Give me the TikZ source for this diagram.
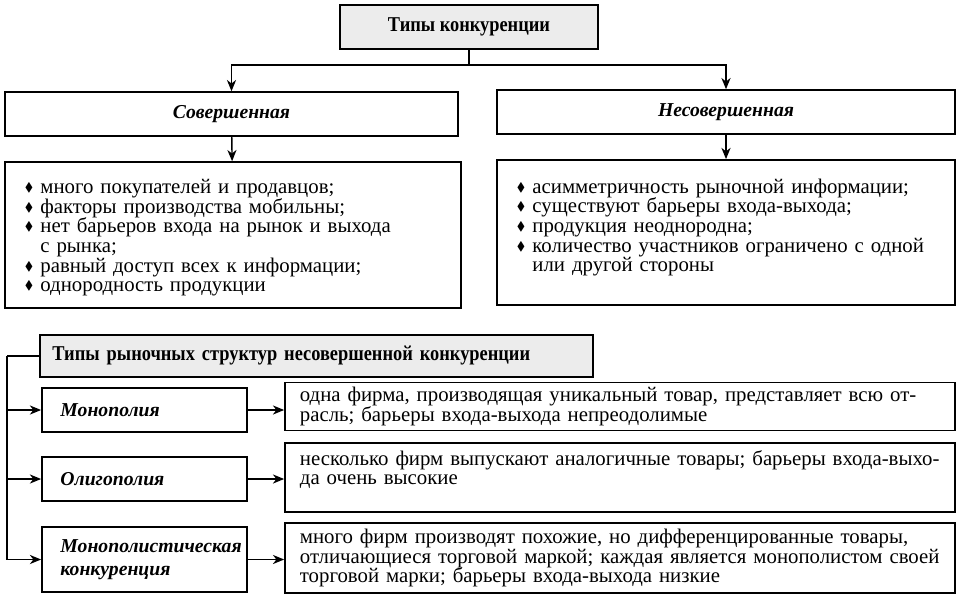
\documentclass[tikz,border=0pt]{standalone}
\usepackage{fontspec}
\setmainfont{Liberation Serif}
\newfontfamily\hdrfont[FakeStretch=0.87]{Liberation Serif}
\usepackage{amssymb}
\usepackage{graphicx}
\usetikzlibrary{arrows.meta,positioning}
\tikzstyle{hdr}=[draw, fill=gray!15, line width=1.6pt, font=\hdrfont\bfseries\fontsize{15}{17}\selectfont]
\tikzstyle{kind}=[draw, line width=1.1pt, minimum height=1.1cm, font=\bfseries\itshape\fontsize{14}{16}\selectfont]
\tikzstyle{lst}=[draw, line width=1.1pt, align=left, font=\fontsize{14.8}{14}\selectfont]
\tikzstyle{desc}=[draw, line width=1.1pt, minimum width=16.75cm, text width=16cm, inner xsep=0.375cm, align=left, font=\fontsize{14.8}{14}\selectfont]
\tikzstyle{con}=[line width=1pt]
\tikzstyle{arr}=[con, -{Stealth[length=8pt,width=6.5pt,inset=2.5pt]}]
\newcommand{\itm}{\par\hangindent=11pt\hangafter=1\noindent\makebox[11pt][l]{\raisebox{0.2ex}{\scalebox{0.6}{$\blacklozenge$}}}}

\begin{document}
\begin{tikzpicture}[x=0.025cm,y=-0.025cm]
\useasboundingbox (0,0) rectangle (960,600);

% types of competition
\node (title) [hdr,minimum width=6.45cm,minimum height=1.1cm] at (469,27) {Типы конкуренции};
\node (sov) [kind,minimum width=11.33cm] at (231.5,114) {Совершенная};
\node (nesov) [kind,minimum width=11.45cm] at (726,112) {Несовершенная};

\node (lstL) [lst,minimum width=11.4cm,minimum height=3.65cm,text width=10.4cm,inner xsep=0.5cm] at (233,235) {%
\itm много покупателей и продавцов;
\itm факторы производства мобильны;
\itm нет барьеров входа на рынок и выхода\newline с рынка;
\itm равный доступ всех к информации;
\itm однородность продукции\par};
\node (lstR) [lst,minimum width=11.45cm,minimum height=3.63cm,text width=10.45cm,inner xsep=0.5cm] at (726,232.5) {%
\itm асимметричность рыночной информации;
\itm существуют барьеры входа-выхода;
\itm продукция неоднородна;
\itm количество участников ограничено с одной\newline или другой стороны
\par\noindent\mbox{}\par};

\coordinate (split) at (title.south |- 0,65);
\draw[con] (title) -- (split);
\draw[arr] (split) -| (sov);
\draw[arr] (split) -| (nesov);
\draw[arr] (sov) -- (lstL);
\draw[arr] (nesov) -- (lstR);

% market structures
\node (types) [hdr,minimum width=13.83cm,minimum height=1.05cm,text width=13.2cm,inner xsep=0.3cm,align=left] at (316.5,356) {Типы рыночных структур несовершенной конкуренции};

\node (mono) [kind,minimum width=5.13cm,text width=4.2cm,inner xsep=0.45cm,align=left] at (144.5,410) {Монополия};
\node (oligo) [kind,minimum width=5.13cm,text width=4.2cm,inner xsep=0.45cm,align=left] at (144.5,479) {Олигополия};
\node (monok) [kind,minimum width=5.13cm,minimum height=1.63cm,text width=4.2cm,inner xsep=0.45cm,align=left] at (144.5,559.5) {Монополистическая\\конкуренция};

\node (d1) [desc,minimum height=1.18cm] at (620,406.5) {одна фирма, производящая уникальный товар, представляет всю от-\\расль; барьеры входа-выхода непреодолимые};
\node (d2) [desc,minimum height=1.73cm] at (620,477.5) {несколько фирм выпускают аналогичные товары; барьеры входа-выхо-\\да очень высокие\\\mbox{}};
\node (d3) [desc,minimum height=1.75cm] at (620,558) {много фирм производят похожие, но дифференцированные товары,\\отличающиеся торговой маркой; каждая является монополистом своей\\торговой марки; барьеры входа-выхода низкие};

\coordinate (rail) at (7,356);
\draw[con] (types.west) -- (rail);
\draw[arr] (rail) |- (mono.west);
\draw[arr] (rail) |- (oligo.west);
\draw[arr] (rail) |- (monok.west);

\draw[arr] (mono.east) -- (mono.east -| d1.west);
\draw[arr] (oligo.east) -- (oligo.east -| d2.west);
\draw[arr] (monok.east) -- (monok.east -| d3.west);

\end{tikzpicture}
\end{document}
